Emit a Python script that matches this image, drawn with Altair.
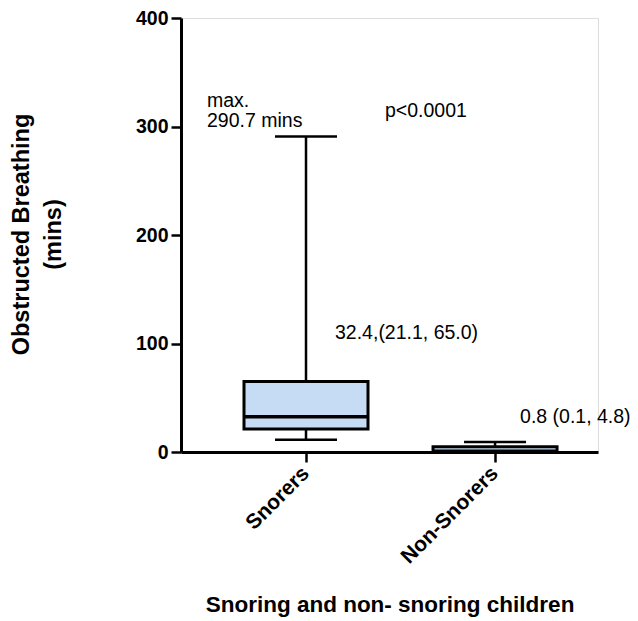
import altair as alt
import pandas as pd

categories = ["Snorers", "Non-Snorers"]
mins = [11.4, 0.0]
q1s = [21.1, 0.1]
medians = [32.4, 0.8]
q3s = [65.0, 4.8]
maxs = [290.7, 9.2]

ann_texts = ["max.\n290.7 mins", "p<0.0001", "32.4,(21.1, 65.0)", "0.8 (0.1, 4.8)"]
ann_cats = ["Snorers", "Snorers", "Snorers", "Non-Snorers"]
ann_y = [318, 309, 104.5, 26.5]
ann_dx = [-99, 79, 29, 25]

y_ticks = [0, 100, 200, 300, 400]

df = pd.DataFrame({"cat": categories, "min": mins, "q1": q1s, "median": medians,
                   "q3": q3s, "max": maxs})

FONT = "Liberation Sans"

xscale = alt.Scale(domain=categories, paddingInner=0.344, paddingOuter=0.275, align=0.606)
yscale = alt.Scale(domain=[0, 400], nice=False)

x_axis = alt.Axis(title="Snoring and non- snoring children", labelAngle=-45,
                  labelAlign="right", labelBaseline="middle", labelFont=FONT,
                  labelFontSize=21, labelFontWeight="bold", labelColor="black",
                  labelPadding=8, tickSize=10, tickWidth=2.5, tickColor="black",
                  domainWidth=3, domainColor="black", titleFont=FONT, titleFontSize=22.5,
                  titleFontWeight="bold", titleColor="black", titleY=159,
                  titleBaseline="alphabetic", grid=False)
y_axis = alt.Axis(title=["Obstructed Breathing", "(mins)"], values=y_ticks, labelFont=FONT,
                  labelFontSize=19.5, labelFontWeight="bold", labelColor="black",
                  labelPadding=3, tickSize=10, tickWidth=2.5, tickColor="black",
                  domainWidth=3, domainColor="black", titleFont=FONT, titleFontSize=23.5,
                  titleFontWeight="bold", titleColor="black", titleAngle=-90,
                  titleX=-152.5, titleY=216, titleAlign="center",
                  titleBaseline="alphabetic", titleLineHeight=32, grid=False)

base = alt.Chart(df)
X = alt.X("cat:N", scale=xscale, axis=x_axis, sort=categories)

whisker = base.mark_rule(color="black", strokeWidth=2.5).encode(
    x=X, y=alt.Y("min:Q", scale=yscale, axis=y_axis), y2="max:Q")
box = base.mark_bar(fill="#C6DBF4", stroke="black", strokeWidth=3).encode(
    x=X, y=alt.Y("q1:Q", scale=yscale), y2="q3:Q")
med = base.mark_tick(color="black", opacity=1, thickness=3.5, size=124,
                     orient="horizontal").encode(
    x=X, y=alt.Y("median:Q", scale=yscale))
cap_lo = base.mark_tick(color="black", opacity=1, thickness=2.5, size=62,
                        orient="horizontal").encode(
    x=X, y=alt.Y("min:Q", scale=yscale))
cap_hi = base.mark_tick(color="black", opacity=1, thickness=2.5, size=62,
                        orient="horizontal").encode(
    x=X, y=alt.Y("max:Q", scale=yscale))

layers = [whisker, box, med, cap_lo, cap_hi]
for t, c, yv, dx in zip(ann_texts, ann_cats, ann_y, ann_dx):
    adf = pd.DataFrame({"text": [t], "cat": [c], "y": [yv]})
    layers.append(
        alt.Chart(adf).mark_text(align="left", baseline="alphabetic", dx=dx, font=FONT,
                                 fontSize=19.5, color="black", lineBreak="\n", lineHeight=20)
        .encode(x=X, y=alt.Y("y:Q", scale=yscale), text="text:N")
    )

chart = alt.layer(*layers).properties(
    width=417, height=434,
    padding={"left": 181, "top": 18, "right": 40, "bottom": 169},
    autosize="none",
).configure_view(stroke=None).configure(background="white")

chart.save("out.html", embed_options={"renderer": "svg", "actions": False})
